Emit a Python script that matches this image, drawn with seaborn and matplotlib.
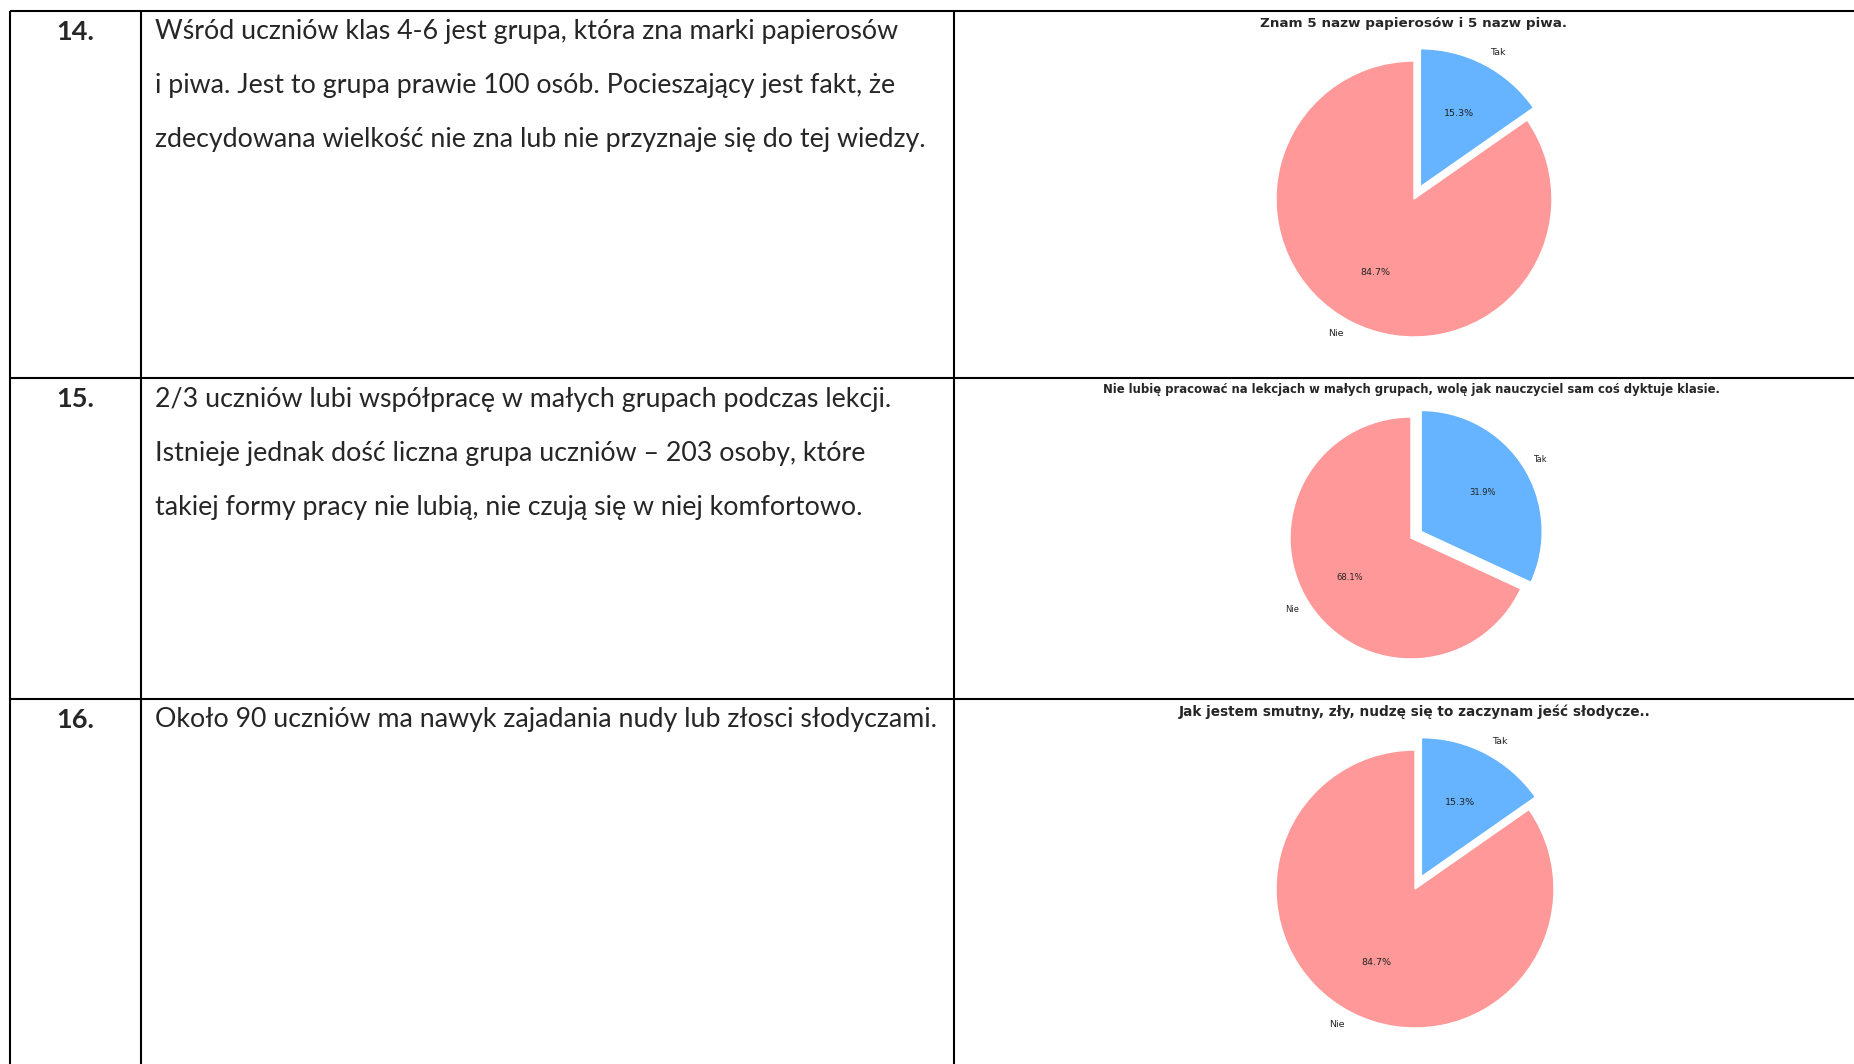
#!/usr/bin/env python3
import matplotlib

matplotlib.use("Agg")

import matplotlib.pyplot as plt
import seaborn as sns

W, H = 1854, 1064

# survey answers, per question
answer_labels = ["Tak", "Nie"]
q14_shares = [15.3, 84.7]
q15_shares = [31.9, 68.1]
q16_shares = [15.3, 84.7]

row_numbers = ["14.", "15.", "16."]
row_texts = [
    [
        "Wśród uczniów klas 4-6 jest grupa, która zna marki papierosów",
        "i piwa. Jest to grupa prawie 100 osób. Pocieszający jest fakt, że",
        "zdecydowana wielkość nie zna lub nie przyznaje się do tej wiedzy.",
    ],
    [
        "2/3 uczniów lubi współpracę w małych grupach podczas lekcji.",
        "Istnieje jednak dość liczna grupa uczniów – 203 osoby, które",
        "takiej formy pracy nie lubią, nie czują się w niej komfortowo.",
    ],
    ["Około 90 uczniów ma nawyk zajadania nudy lub złosci słodyczami."],
]
pie_titles = [
    "Znam 5 nazw papierosów i 5 nazw piwa.",
    "Nie lubię pracować na lekcjach w małych grupach, wolę jak nauczyciel sam coś dyktuje klasie.",
    "Jak jestem smutny, zły, nudzę się to zaczynam jeść słodycze..",
]
pie_shares = [q14_shares, q15_shares, q16_shares]

sns.set_theme(style="white")
plt.rcParams["font.family"] = ["Lato", "DejaVu Sans"]

colors = ["#66b3ff", "#ff9999"]

fig = plt.figure(figsize=(W / 100, H / 100), dpi=100)
bg = fig.add_axes([0, 0, 1, 1])
bg.set_xlim(0, W)
bg.set_ylim(H, 0)
bg.axis("off")

# table grid
row_tops = [11, 378, 699]
col_x = [10, 141, 954]
lw = 1.5
for y in row_tops:
    bg.plot([col_x[0], W], [y, y], color="black", lw=lw, solid_capstyle="butt")
for x in col_x:
    bg.plot([x, x], [row_tops[0], H], color="black", lw=lw, solid_capstyle="butt")

# first two columns
line_gap = 54
for top, num, lines in zip(row_tops, row_numbers, row_texts):
    y0 = top + 21
    bg.text(75, y0, num, ha="center", va="center", fontsize=19.5, fontweight="bold")
    for i, line in enumerate(lines):
        bg.text(155, y0 + i * line_gap, line, ha="left", va="center", fontsize=19.3)

# pies: center x, center y, radius (pixels), title y, font sizes
pie_geom = [
    (1414, 199, 138, 24, 9.7, 6.8),
    (1411, 538, 121, 389, 8.4, 6.0),
    (1415, 889, 139, 712, 9.8, 6.8),
]
for (cx, cy, r, ty, tfs, lfs), shares, title in zip(pie_geom, pie_shares, pie_titles):
    size = 2.5 * r
    ax = fig.add_axes([(cx - size / 2) / W, (H - cy - size / 2) / H, size / W, size / H])
    ax.pie(
        shares,
        labels=answer_labels,
        colors=colors,
        explode=(0.1, 0),
        autopct="%1.1f%%",
        startangle=90,
        counterclock=False,
        textprops={"fontsize": lfs, "family": "DejaVu Sans", "color": "#222222"},
    )
    ax.set_xlim(-1.25, 1.25)
    ax.set_ylim(-1.25, 1.25)
    ax.set_aspect("equal")
    ax.patch.set_alpha(0)
    bg.text(cx, ty, title, ha="center", va="center", fontsize=tfs,
            fontweight="bold", family="DejaVu Sans")

fig.savefig("out.png", dpi=100)
